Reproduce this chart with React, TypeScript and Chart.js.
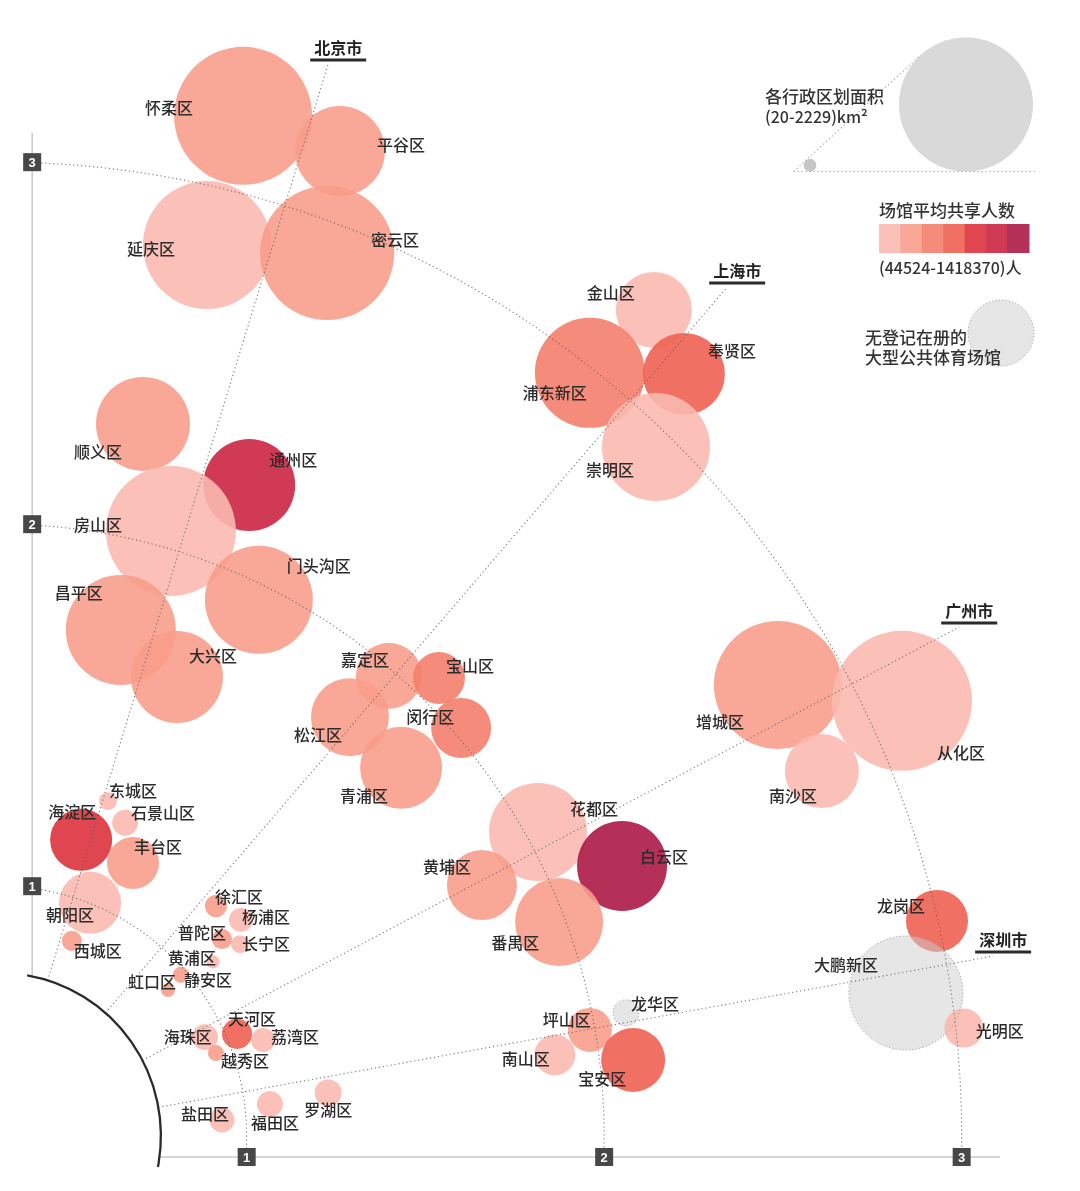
import React, { useEffect, useRef } from "react";
import { Chart, registerables } from "chart.js";

Chart.register(...registerables);

// ---------------- data ----------------
const districts = [
  "怀柔区", "平谷区", "延庆区", "密云区", "顺义区", "通州区", "房山区", "门头沟区", "昌平区", "大兴区",
  "东城区", "石景山区", "海淀区", "丰台区", "朝阳区", "西城区",
  "嘉定区", "宝山区", "松江区", "闵行区", "青浦区", "金山区", "浦东新区", "奉贤区", "崇明区",
  "徐汇区", "杨浦区", "普陀区", "长宁区", "黄浦区", "静安区", "虹口区",
  "增城区", "从化区", "南沙区", "花都区", "白云区", "黄埔区", "番禺区", "天河区", "海珠区", "荔湾区", "越秀区",
  "坪山区", "南山区", "宝安区", "龙华区", "龙岗区", "大鹏新区", "光明区", "福田区", "罗湖区", "盐田区",
];

const xValues = [
  0.990, 1.261, 0.889, 1.225, 0.710, 1.007, 0.788, 1.034, 0.648, 0.805,
  0.612, 0.660, 0.537, 0.682, 0.562, 0.511,
  1.398, 1.538, 1.289, 1.600, 1.432, 2.139, 1.960, 2.223, 2.145,
  0.914, 0.984, 0.931, 0.981, 0.906, 0.816, 0.780,
  2.486, 2.833, 2.609, 1.815, 2.050, 1.658, 1.874, 0.973, 0.883, 1.046, 0.914,
  1.960, 1.862, 2.081, 2.061, 2.931, 2.844, 3.006, 1.065, 1.228, 0.931,
];

const yValues = [
  3.128, 3.031, 2.771, 2.749, 2.277, 2.108, 1.981, 1.791, 1.708, 1.578,
  1.235, 1.175, 1.128, 1.064, 0.954, 0.849,
  1.581, 1.575, 1.467, 1.437, 1.327, 2.592, 2.418, 2.415, 2.213,
  0.945, 0.907, 0.854, 0.840, 0.791, 0.755, 0.713,
  1.556, 1.512, 1.318, 1.150, 1.056, 1.003, 0.901, 0.592, 0.583, 0.575, 0.539,
  0.603, 0.534, 0.520, 0.650, 0.904, 0.705, 0.608, 0.398, 0.429, 0.354,
];

// administrative area, km²
const areaKm2 = [
  2360, 1004, 2031, 2229, 1095, 1049, 2095, 1446, 1500, 1049,
  40, 84, 477, 335, 477, 50,
  540, 335, 754, 446, 834, 716, 1500, 834, 1446,
  60, 71, 50, 40, 22, 32, 24,
  2031, 2430, 679, 1191, 1004, 608, 960, 112, 84, 71, 32,
  240, 208, 508, 84, 477, 1611, 189, 84, 90, 77,
];

// average number of people sharing one venue (null = no registered venue)
const sharePeople: (number | null)[] = [
  220000, 230000, 120000, 240000, 235000, 900000, 130000, 210000, 245000, 240000,
  100000, 110000, 620000, 235000, 140000, 200000,
  230000, 320000, 240000, 340000, 225000, 130000, 330000, 450000, 90000,
  200000, 140000, 190000, 120000, 44524, 180000, 170000,
  245000, 120000, 110000, 100000, 1418370, 210000, 230000, 480000, 145000, 130000, 170000,
  200000, 140000, 470000, null, 460000, null, 120000, 130000, 120000, 80000,
];

const cityNames = ["北京市", "上海市", "广州市", "深圳市"];
const cityX = [1.256, 2.372, 3.021, 3.116];
const cityY = [3.282, 2.666, 1.727, 0.818];

const ringValues = [1, 2, 3];
const tickLabels = ["1", "2", "3"];
const colorBreaks = [150000, 250000, 350000, 500000, 700000, 1000000];
const areaLegend = [20, 2229];

// ---------------- layout / style ----------------
const labelDx = [
  -74, 61, -56, 68, -45, 44, -73, 60, -42, 36,
  25, 38, -9, 25, -20, 26,
  -24, 31, -32, -31, -37, -43, -35, 48, -46,
  23, 25, -20, 26, -21, 27, -16,
  -58, 59, -29, 56, 42, -35, -44, 15, -17, 32, 29,
  -23, -29, -31, 29, -36, -60, 36, 5, 0, -17,
];
const labelDy = [
  -8, -6, 4, -13, 28, -25, -6, -34, -37, -21,
  -10, -10, -28, -16, 12, 10,
  -16, -12, 18, -11, 28, -17, 20, -23, 23,
  -9, -3, -6, 0, -4, 5, -8,
  37, 52, 25, -23, -9, -18, 21, -15, 0, -3, 8,
  -10, 4, 19, -9, -15, -28, 3, 19, 17, -6,
];

const W = 1080;
const H = 1191;
const X_MIN = 0.31;
const X_MAX = 3.331;
const Y_MIN = 0.158;
const Y_MAX = 3.448;
const ORIGIN = 0.31;
const AXIS_X = 0.4;
const AXIS_Y = 0.252;
const AXIS_END_X = 3.107;
const AXIS_END_Y = 3.081;
const SOLID_R = 0.45;
const R_K = 1.42;

const PALETTE = [
  "rgba(251,186,176,0.9)",
  "rgba(248,157,139,0.9)",
  "rgba(244,128,109,0.9)",
  "rgba(238,98,82,0.9)",
  "rgba(220,50,60,0.9)",
  "rgba(204,37,67,0.9)",
  "rgba(172,26,70,0.9)",
];
const NONE_FILL = "rgba(205,205,205,0.5)";
const FONT = '"Noto Sans CJK SC", "Noto Sans", sans-serif';
const TEXT = "#2b2b2b";

function colorFor(v: number | null): string {
  if (v === null) return NONE_FILL;
  let c = 0;
  while (c < colorBreaks.length && v >= colorBreaks[c]) c++;
  return PALETTE[c];
}

function dotted(ctx: CanvasRenderingContext2D) {
  ctx.setLineDash([1.2, 2.8]);
  ctx.lineWidth = 1.1;
  ctx.strokeStyle = "rgba(90,90,90,0.8)";
}

const decorPlugin = {
  id: "decor",
  afterDatasetsDraw(chart: any) {
    const ctx: CanvasRenderingContext2D = chart.ctx;
    const xs = chart.scales.x;
    const ys = chart.scales.y;
    const cx = xs.getPixelForValue(ORIGIN);
    const cy = ys.getPixelForValue(ORIGIN);
    const axX = xs.getPixelForValue(AXIS_X);
    const axY = ys.getPixelForValue(AXIS_Y);
    const srx = xs.getPixelForValue(ORIGIN + SOLID_R) - cx;
    const sry = cy - ys.getPixelForValue(ORIGIN + SOLID_R);
    const meta = chart.getDatasetMeta(0);

    ctx.save();

    // dotted outlines of districts with no venue
    meta.data.forEach((el: any, i: number) => {
      if (sharePeople[i] !== null) return;
      const r = R_K * Math.sqrt(areaKm2[i]);
      ctx.beginPath();
      ctx.setLineDash([1.2, 2.2]);
      ctx.lineWidth = 1;
      ctx.strokeStyle = "rgba(150,150,150,0.9)";
      ctx.arc(el.x, el.y, r, 0, Math.PI * 2);
      ctx.stroke();
    });

    // ring arcs
    dotted(ctx);
    ringValues.forEach((k) => {
      const rx = xs.getPixelForValue(k) - cx;
      const ry = cy - ys.getPixelForValue(k);
      const s = -Math.acos(Math.min(1, (axX + 9 - cx) / rx));
      const e = Math.asin(Math.max(-1, Math.min(1, (axY - 9 - cy) / ry)));
      ctx.beginPath();
      ctx.ellipse(cx, cy, rx, ry, 0, s, e, false);
      ctx.stroke();
    });

    // radial lines to the city labels
    cityNames.forEach((_, c) => {
      const ex = xs.getPixelForValue(cityX[c]) - 10;
      const ey = ys.getPixelForValue(cityY[c]) + 4;
      const dx = ex - cx;
      const dy = ey - cy;
      const t0 = 1 / Math.sqrt((dx / srx) ** 2 + (dy / sry) ** 2);
      ctx.beginPath();
      ctx.moveTo(cx + dx * t0, cy + dy * t0);
      ctx.lineTo(ex, ey);
      ctx.stroke();
    });
    ctx.setLineDash([]);

    // axis lines
    ctx.strokeStyle = "#c9c9c9";
    ctx.lineWidth = 1.5;
    const yTop = ys.getPixelForValue(AXIS_END_Y);
    const yAxisBottom = cy - sry * Math.sqrt(Math.max(0, 1 - ((axX - cx) / srx) ** 2));
    ctx.beginPath();
    ctx.moveTo(axX, yTop);
    ctx.lineTo(axX, yAxisBottom);
    ctx.stroke();
    const xRight = xs.getPixelForValue(AXIS_END_X);
    const xAxisLeft = cx + srx * Math.sqrt(Math.max(0, 1 - ((axY - cy) / sry) ** 2));
    ctx.beginPath();
    ctx.moveTo(xAxisLeft, axY);
    ctx.lineTo(xRight, axY);
    ctx.stroke();

    // solid quarter arc at the origin
    ctx.strokeStyle = "#2b2b2b";
    ctx.lineWidth = 2.3;
    ctx.beginPath();
    ctx.ellipse(cx, cy, srx, sry, 0, -Math.acos((axX - 5 - cx) / srx), Math.asin((H - 24 - cy) / sry), false);
    ctx.stroke();

    // tick boxes
    const box = (x: number, y: number, t: string) => {
      ctx.fillStyle = "#474747";
      ctx.fillRect(x - 9, y - 9, 18, 18);
      ctx.fillStyle = "#ffffff";
      ctx.font = 'bold 13px "Liberation Sans", Arial, sans-serif';
      ctx.textAlign = "center";
      ctx.textBaseline = "middle";
      ctx.fillText(t, x, y + 1);
    };
    ringValues.forEach((k, i) => {
      box(xs.getPixelForValue(k), axY, tickLabels[i]);
      box(axX, ys.getPixelForValue(k), tickLabels[i]);
    });

    // district labels
    ctx.font = `500 16px ${FONT}`;
    ctx.fillStyle = TEXT;
    ctx.textAlign = "center";
    ctx.textBaseline = "middle";
    meta.data.forEach((el: any, i: number) => {
      ctx.fillText(districts[i], el.x + labelDx[i], el.y + labelDy[i]);
    });

    // city labels
    cityNames.forEach((name, c) => {
      const ux = xs.getPixelForValue(cityX[c]);
      const uy = ys.getPixelForValue(cityY[c]);
      ctx.font = `bold 16px ${FONT}`;
      ctx.fillStyle = "#222222";
      ctx.textAlign = "center";
      ctx.textBaseline = "middle";
      ctx.fillText(name, ux, uy - 12);
      ctx.strokeStyle = "#2b2b2b";
      ctx.lineWidth = 3;
      ctx.beginPath();
      ctx.moveTo(ux - 28, uy);
      ctx.lineTo(ux + 28, uy);
      ctx.stroke();
    });

    // ----- legend: area -----
    const base = 171.5;
    const rBig = R_K * Math.sqrt(areaLegend[1]);
    const rSmall = R_K * Math.sqrt(areaLegend[0]);
    const bigC = { x: 966, y: base - rBig };
    const smallC = { x: 810, y: base - rSmall };
    ctx.fillStyle = "#d9d9d9";
    ctx.beginPath();
    ctx.arc(bigC.x, bigC.y, rBig, 0, Math.PI * 2);
    ctx.fill();
    ctx.fillStyle = "#c6c6c6";
    ctx.beginPath();
    ctx.arc(smallC.x, smallC.y, rSmall, 0, Math.PI * 2);
    ctx.fill();
    // tangent lines
    const hx = smallC.x + ((smallC.x - bigC.x) * rSmall) / (rBig - rSmall);
    const hy = smallC.y + ((smallC.y - bigC.y) * rSmall) / (rBig - rSmall);
    const ang = 2 * Math.atan2(bigC.y - smallC.y, bigC.x - smallC.x);
    const dist = Math.hypot(bigC.x - hx, bigC.y - hy);
    const tl = Math.sqrt(dist * dist - rBig * rBig);
    dotted(ctx);
    ctx.strokeStyle = "rgba(150,150,150,0.9)";
    ctx.beginPath();
    ctx.moveTo(hx, base);
    ctx.lineTo(1037, base);
    ctx.moveTo(hx, hy);
    ctx.lineTo(hx + tl * Math.cos(ang), hy + tl * Math.sin(ang));
    ctx.stroke();
    ctx.setLineDash([]);

    ctx.fillStyle = "#333333";
    ctx.textAlign = "left";
    ctx.textBaseline = "middle";
    ctx.font = `500 17px ${FONT}`;
    ctx.fillText("各行政区划面积", 765, 97);
    ctx.font = `500 16px ${FONT}`;
    ctx.fillText(`(${areaLegend[0]}-${areaLegend[1]})km²`, 765, 117);

    // ----- legend: colour -----
    const vals = sharePeople.filter((v) => v !== null) as number[];
    const sMin = Math.min(...vals);
    const sMax = Math.max(...vals);
    ctx.font = `500 17px ${FONT}`;
    ctx.fillText("场馆平均共享人数", 879, 211);
    const bw = 150 / PALETTE.length;
    PALETTE.forEach((col, i) => {
      ctx.fillStyle = col;
      ctx.fillRect(879 + i * bw, 224, bw + 0.5, 29);
    });
    ctx.fillStyle = "#333333";
    ctx.font = `500 16px ${FONT}`;
    ctx.fillText(`(${sMin}-${sMax})人`, 879, 268);

    // ----- legend: no venue -----
    ctx.fillStyle = NONE_FILL;
    ctx.beginPath();
    ctx.arc(1001, 333, 33, 0, Math.PI * 2);
    ctx.fill();
    ctx.setLineDash([1.2, 2.2]);
    ctx.lineWidth = 1;
    ctx.strokeStyle = "rgba(150,150,150,0.9)";
    ctx.stroke();
    ctx.setLineDash([]);
    ctx.fillStyle = "#333333";
    ctx.font = `500 17px ${FONT}`;
    ctx.fillText("无登记在册的", 865, 338);
    ctx.fillText("大型公共体育场馆", 865, 358);

    ctx.restore();
  },
};

export default function App() {
  const ref = useRef<HTMLCanvasElement | null>(null);

  useEffect(() => {
    if (!ref.current) return;
    const chart = new Chart(ref.current, {
      type: "bubble",
      data: {
        datasets: [
          {
            data: districts.map((_, i) => ({
              x: xValues[i],
              y: yValues[i],
              r: R_K * Math.sqrt(areaKm2[i]),
            })),
            backgroundColor: districts.map((_, i) => colorFor(sharePeople[i])),
            borderWidth: 0,
            hoverRadius: 0,
            clip: false,
          } as any,
        ],
      },
      options: {
        animation: false,
        responsive: false,
        events: [],
        layout: { padding: 0, autoPadding: false },
        scales: {
          x: { type: "linear", min: X_MIN, max: X_MAX, display: false },
          y: { type: "linear", min: Y_MIN, max: Y_MAX, display: false },
        },
        plugins: {
          legend: { display: false },
          tooltip: { enabled: false },
        },
      },
      plugins: [decorPlugin],
    });
    return () => chart.destroy();
  }, []);

  return (
    <div style={{ position: "absolute", left: 0, top: 0, width: W, height: H, background: "#ffffff" }}>
      <canvas ref={ref} width={W} height={H} style={{ width: W, height: H, display: "block" }} />
    </div>
  );
}
